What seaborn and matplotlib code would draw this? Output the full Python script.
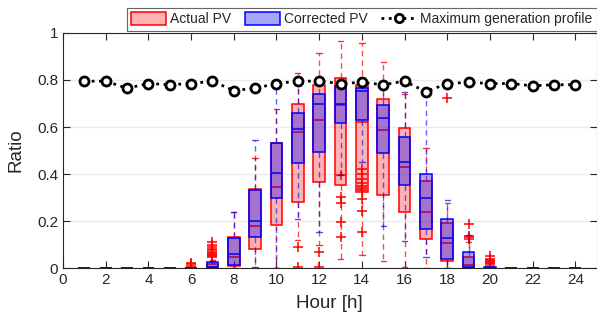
import matplotlib.pyplot as plt
import seaborn as sns
from matplotlib.patches import Patch
from matplotlib.lines import Line2D

hours = list(range(1, 25))

# maximum generation profile (black dotted line)
max_profile = [0.795, 0.795, 0.765, 0.785, 0.78, 0.785, 0.795, 0.755, 0.765, 0.785, 0.795, 0.795,
               0.785, 0.79, 0.78, 0.795, 0.75, 0.785, 0.79, 0.785, 0.785, 0.775, 0.78, 0.78]

# Actual PV box statistics per hour
act_lo = [0, 0, 0, 0, 0, 0, 0, 0, 0, 0, 0.12, 0.10,
          0.038, 0.055, 0.031, 0.005, 0, 0, 0, 0, 0, 0, 0, 0]
act_q1 = [0, 0, 0, 0, 0, 0, 0, 0.008, 0.081, 0.183, 0.282, 0.365,
          0.352, 0.325, 0.311, 0.237, 0.123, 0.03, 0, 0, 0, 0, 0, 0]
act_med = [0, 0, 0, 0, 0, 0, 0.003, 0.048, 0.179, 0.343, 0.58, 0.63,
           0.692, 0.623, 0.587, 0.431, 0.24, 0.105, 0.013, 0, 0, 0, 0, 0]
act_q3 = [0, 0, 0, 0, 0, 0.002, 0.018, 0.133, 0.335, 0.53, 0.70, 0.779,
          0.81, 0.78, 0.719, 0.597, 0.372, 0.193, 0.048, 0.002, 0, 0, 0, 0]
act_hi = [0, 0, 0, 0, 0, 0.004, 0.035, 0.24, 0.47, 0.677, 0.829, 0.914,
          0.968, 0.956, 0.878, 0.74, 0.512, 0.278, 0.11, 0.004, 0, 0, 0, 0]
act_fliers = {
    6: [0.008, 0.015, 0.02],
    7: [0.045, 0.05, 0.055, 0.06, 0.065, 0.07, 0.075, 0.08, 0.09, 0.10, 0.11],
    11: [0.088, 0.003],
    12: [0.067, 0.003],
    13: [0.396, 0.304, 0.275, 0.197, 0.13],
    14: [0.33, 0.34, 0.35, 0.36, 0.38, 0.40, 0.42, 0.293, 0.243, 0.155],
    18: [0.722],
    19: [0.186, 0.135, 0.13, 0.125],
    20: [0.01, 0.015, 0.02, 0.025, 0.03, 0.035, 0.04, 0.05],
}

# Corrected PV box statistics per hour
cor_lo = [0, 0, 0, 0, 0, 0, 0, 0, 0.005, 0, 0.207, 0.155,
          0.396, 0.452, 0.179, 0.115, 0.045, 0, 0, 0, 0, 0, 0, 0]
cor_q1 = [0, 0, 0, 0, 0, 0, 0, 0.013, 0.13, 0.30, 0.445, 0.492,
          0.618, 0.63, 0.489, 0.353, 0.165, 0.038, 0, 0, 0, 0, 0, 0]
cor_med = [0, 0, 0, 0, 0, 0, 0.005, 0.058, 0.201, 0.403, 0.59, 0.698,
           0.70, 0.753, 0.637, 0.452, 0.297, 0.126, 0.005, 0, 0, 0, 0, 0]
cor_q3 = [0, 0, 0, 0, 0, 0, 0.024, 0.126, 0.332, 0.53, 0.661, 0.74,
          0.773, 0.765, 0.694, 0.556, 0.398, 0.208, 0.067, 0.003, 0, 0, 0, 0]
cor_hi = [0, 0, 0, 0, 0, 0, 0.03, 0.24, 0.545, 0.789, 0.79, 0.79,
          0.79, 0.79, 0.79, 0.75, 0.743, 0.289, 0.14, 0.003, 0, 0, 0, 0]


def box_stats(lo, q1, med, q3, hi, fliers):
    stats = []
    for i, h in enumerate(hours):
        stats.append(dict(whislo=lo[i], q1=q1[i], med=med[i], q3=q3[i],
                          whishi=hi[i], fliers=fliers.get(h, [])))
    return stats


sns.set_style('ticks')
plt.rcParams['font.family'] = ['Liberation Sans', 'DejaVu Sans']

fig = plt.figure(figsize=(5.97, 3.29), dpi=100)
ax = fig.add_axes([0.1055, 0.1854, 0.894, 0.7143])

red = '#ff0000'
blue = '#0000ff'

ax.bxp(box_stats(act_lo, act_q1, act_med, act_q3, act_hi, act_fliers),
       positions=hours, widths=0.55, capwidths=0.25, patch_artist=True,
       boxprops=dict(facecolor=(1, 0, 0, 0.3), edgecolor=red, lw=1.1),
       medianprops=dict(color=red, lw=1.1),
       whiskerprops=dict(color=red, lw=1.0, ls=(0, (4, 3)), alpha=0.7),
       capprops=dict(color=red, lw=1.0, alpha=0.8),
       flierprops=dict(marker='+', markeredgecolor=red, markersize=7, mew=1.1),
       zorder=2)

ax.bxp(box_stats(cor_lo, cor_q1, cor_med, cor_q3, cor_hi, {}),
       positions=hours, widths=0.55, capwidths=0.25, patch_artist=True,
       boxprops=dict(facecolor=(0, 0, 1, 0.35), edgecolor=blue, lw=1.1),
       medianprops=dict(color=blue, lw=1.1),
       whiskerprops=dict(color=blue, lw=1.0, ls=(0, (4, 3)), alpha=0.6),
       capprops=dict(color=blue, lw=1.0, alpha=0.7),
       flierprops=dict(marker='+', markeredgecolor=blue, markersize=7, mew=1.1),
       zorder=3)

sns.lineplot(x=hours, y=max_profile, ax=ax, color='k', linestyle=':', lw=2,
             marker='o', markersize=6.5, markerfacecolor='white',
             markeredgecolor='k', markeredgewidth=2, zorder=5, legend=False)

ax.set_xlim(0, 25)
ax.set_ylim(0, 1)
ax.set_xticks(range(0, 25, 2))
ax.set_xticklabels([str(t) for t in range(0, 25, 2)])
ax.set_yticks([0, 0.2, 0.4, 0.6, 0.8, 1])
ax.set_yticklabels(['0', '0.2', '0.4', '0.6', '0.8', '1'])
ax.tick_params(direction='in', top=True, right=True, length=5, width=0.8,
               labelsize=11, colors='#262626')
ax.yaxis.grid(True, color='#ebebeb', lw=1)
ax.set_axisbelow(True)
for s in ax.spines.values():
    s.set_color('#262626')
    s.set_linewidth(0.8)

ax.set_xlabel('Hour [h]', fontsize=13.5, color='#262626', labelpad=6)
ax.set_ylabel('Ratio', fontsize=13.5, color='#262626', labelpad=9)

handles = [Patch(facecolor=(1, 0, 0, 0.3), edgecolor=red, lw=1.1),
           Patch(facecolor=(0, 0, 1, 0.35), edgecolor=blue, lw=1.1),
           Line2D([], [], color='k', ls=':', lw=2, marker='o', markersize=6,
                  markerfacecolor='white', markeredgecolor='k', markeredgewidth=2)]
leg = ax.legend(handles, ['Actual PV', 'Corrected PV', 'Maximum generation profile'],
                ncol=3, loc='lower right', bbox_to_anchor=(1.0, 1.01),
                borderaxespad=0, fontsize=10, frameon=True, fancybox=False,
                handlelength=2.5, handleheight=1.1, handletextpad=0.3,
                columnspacing=1.0, borderpad=0.3)
leg.get_frame().set_edgecolor('#404040')
leg.get_frame().set_linewidth(0.8)

fig.savefig('out.png', dpi=100)
